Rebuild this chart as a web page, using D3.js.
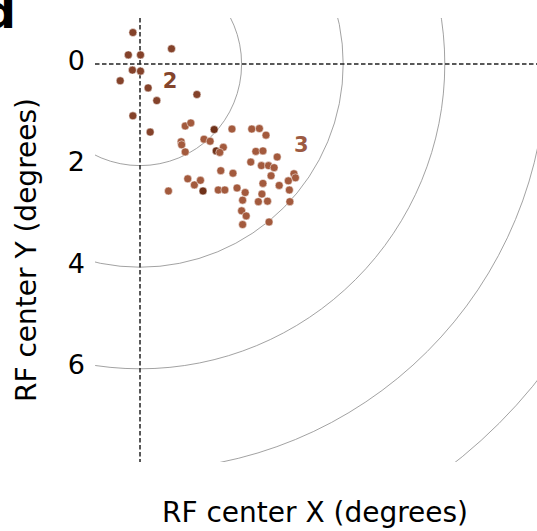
<!DOCTYPE html>
<html>
<head>
<meta charset="utf-8">
<script src="https://cdn.jsdelivr.net/npm/d3@7"></script>
<style>
  body { margin: 0; background: #fff; }
  text { font-family: "DejaVu Sans", sans-serif; }
</style>
</head>
<body>
<div id="chart"></div>
<script>
// RF centers (degrees), group "2" near the origin
const group2X = [-0.14, -0.23, 0.01, 0.62, -0.15, 0.01, -0.39, 0.16, 0.33, 1.12, -0.14, 0.20];
const group2Y = [-0.62, -0.18, -0.18, -0.30, 0.12, 0.14, 0.33, 0.47, 0.72, 0.60, 1.02, 1.34];

// group "3"
const group3X = [0.89, 1.00, 1.46, 1.81, 0.81, 0.82, 0.89, 1.26, 1.38, 1.64, 1.50, 1.57,
                 1.59, 1.83, 0.94, 1.07, 1.19, 1.24, 0.56, 1.54, 1.67, 1.91, 2.20, 2.35,
                 2.48, 2.28, 2.42, 2.70, 2.18, 2.39, 2.53, 2.64, 2.58, 3.03, 3.06, 2.42,
                 2.74, 2.92, 2.94, 2.07, 2.40, 2.02, 2.33, 2.51, 2.95, 2.00, 2.09, 2.02, 2.54];
const group3Y = [1.22, 1.16, 1.29, 1.28, 1.53, 1.59, 1.73, 1.48, 1.52, 1.64, 1.71, 1.74,
                 2.10, 2.15, 2.26, 2.38, 2.29, 2.50, 2.50, 2.48, 2.48, 2.44, 1.28, 1.27,
                 1.40, 1.72, 1.71, 1.83, 1.93, 2.00, 2.00, 2.04, 2.20, 2.16, 2.24, 2.35,
                 2.39, 2.30, 2.48, 2.53, 2.56, 2.68, 2.71, 2.70, 2.71, 2.89, 2.99, 3.16, 3.11];
// indices in group 3 drawn darker
const group3Dark = [2, 10, 17];

const eccRings = [2, 4, 6, 8, 10];
const yTicks = [0, 2, 4, 6];

const width = 537;
const height = 531;

const svg = d3.select("#chart")
    .append("svg")
    .attr("width", width)
    .attr("height", height);

const x = d3.scaleLinear().domain([-0.886, 7.815]).range([95, 537]);
const y = d3.scaleLinear().domain([-0.906, 7.835]).range([18, 462]);

svg.append("clipPath")
    .attr("id", "plotclip")
    .append("rect")
    .attr("x", x.range()[0])
    .attr("y", y.range()[0])
    .attr("width", x.range()[1] - x.range()[0])
    .attr("height", y.range()[1] - y.range()[0]);

const plot = svg.append("g").attr("clip-path", "url(#plotclip)");

// eccentricity rings around the origin
plot.selectAll(".ring")
    .data(eccRings)
    .enter().append("circle")
    .attr("class", "ring")
    .attr("cx", x(0))
    .attr("cy", y(0))
    .attr("r", d => x(d) - x(0))
    .attr("fill", "none")
    .attr("stroke", "#8a8a8a")
    .attr("stroke-width", 0.8);

// dashed zero lines
plot.append("line")
    .attr("x1", x.range()[0]).attr("x2", x.range()[1])
    .attr("y1", y(0)).attr("y2", y(0))
    .attr("stroke", "#222")
    .attr("stroke-width", 1.5)
    .attr("stroke-dasharray", "4.5,2.5");

plot.append("line")
    .attr("x1", x(0)).attr("x2", x(0))
    .attr("y1", y.range()[0]).attr("y2", y.range()[1])
    .attr("stroke", "#222")
    .attr("stroke-width", 1.5)
    .attr("stroke-dasharray", "4.5,2.5");

const pts = group2X.map((v, i) => ({x: v, y: group2Y[i], c: "#84422a"}))
    .concat(group3X.map((v, i) => ({
        x: v, y: group3Y[i],
        c: group3Dark.includes(i) ? "#6f3119" : "#a35a3d"
    })));

plot.selectAll(".pt")
    .data(pts)
    .enter().append("circle")
    .attr("class", "pt")
    .attr("cx", d => x(d.x))
    .attr("cy", d => y(d.y))
    .attr("r", 4)
    .attr("fill", d => d.c)
    .attr("stroke", "#fff")
    .attr("stroke-width", 0.5);

// group labels
svg.append("text")
    .attr("x", x(0.45)).attr("y", y(0.47))
    .attr("font-size", 21).attr("font-weight", "bold")
    .attr("fill", "#84452c")
    .text("2");

svg.append("text")
    .attr("x", x(3.03)).attr("y", y(1.73))
    .attr("font-size", 21).attr("font-weight", "bold")
    .attr("fill", "#9c5a42")
    .text("3");

// y axis: labels only
const yAxis = svg.append("g")
    .attr("transform", "translate(85,0)")
    .call(d3.axisLeft(y).tickValues(yTicks).tickSize(0).tickPadding(0));
yAxis.select(".domain").remove();
yAxis.selectAll("text")
    .attr("font-family", "DejaVu Sans")
    .attr("font-size", 27)
    .attr("fill", "#000")
    .attr("dy", 5);

svg.append("text")
    .attr("transform", "translate(36,250) rotate(-90)")
    .attr("text-anchor", "middle")
    .attr("font-size", 28)
    .text("RF center Y (degrees)");

svg.append("text")
    .attr("x", 315).attr("y", 522)
    .attr("text-anchor", "middle")
    .attr("font-size", 28)
    .text("RF center X (degrees)");

// panel letter, cut at the edge as in the source figure
svg.append("text")
    .attr("x", 16).attr("y", 28)
    .attr("text-anchor", "end")
    .attr("font-size", 46)
    .attr("font-weight", "bold")
    .text("d");
</script>
</body>
</html>
